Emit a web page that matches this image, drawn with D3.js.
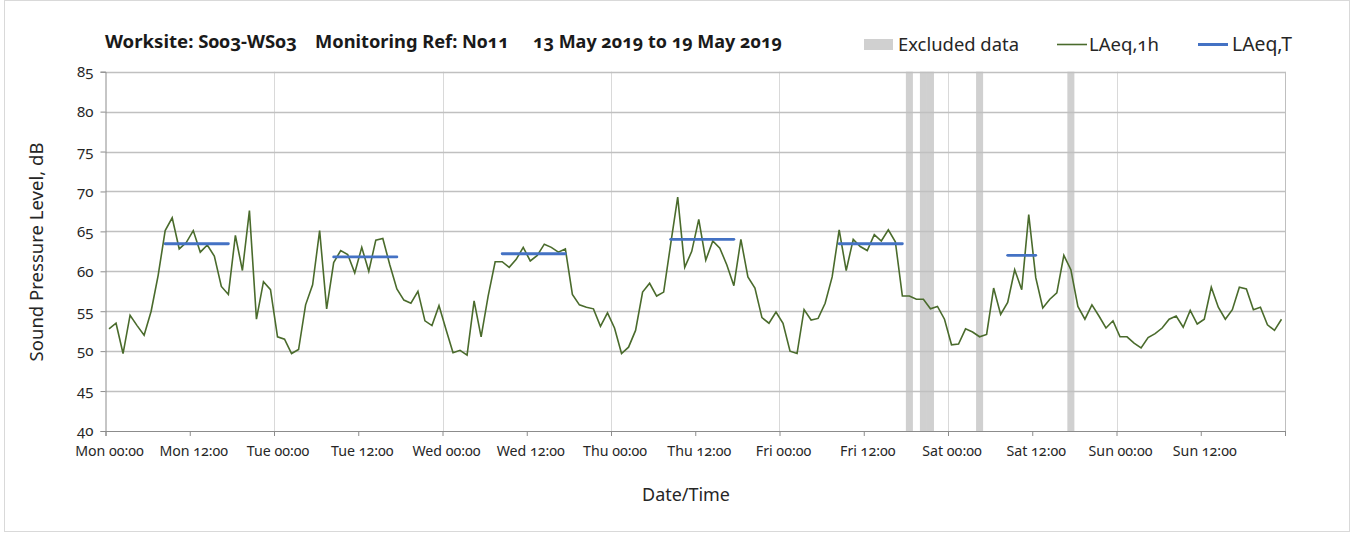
<!DOCTYPE html>
<html>
<head>
<meta charset="utf-8">
<script src="https://cdn.jsdelivr.net/npm/d3@7"></script>
<style>
  body { margin: 0; background: #fff; }
  svg { display: block; font-family: "Noto Sans", "Open Sans", sans-serif; }
  .num { font-variant-numeric: oldstyle-nums; font-feature-settings: "onum" 1; }
</style>
</head>
<body>
<svg id="chart" width="1357" height="533"></svg>
<script>
// Hour offsets (from Mon 00:00) of the labelled ticks, and their labels
const tickHours = [0, 12, 24, 36, 48, 60, 72, 84, 96, 108, 120, 132, 144, 156];
const tickLabels = ["Mon 00:00", "Mon 12:00", "Tue 00:00", "Tue 12:00", "Wed 00:00", "Wed 12:00",
  "Thu 00:00", "Thu 12:00", "Fri 00:00", "Fri 12:00", "Sat 00:00", "Sat 12:00", "Sun 00:00", "Sun 12:00"];
const dayBoundaries = [24, 48, 72, 96, 120, 144];
const yTicks = [40, 45, 50, 55, 60, 65, 70, 75, 80, 85];

// Hourly LAeq,1h values, 13 May 2019 00:00 to 19 May 2019 23:00 (dB)
const laeq1h = [
  52.8, 53.5, 49.7, 54.5, 53.2, 52.0, 55.0, 59.5, 65.1, 66.7, 62.8, 63.6,
  65.1, 62.4, 63.3, 61.9, 58.1, 57.1, 64.5, 60.1, 67.6, 54.0, 58.7, 57.7,
  51.8, 51.5, 49.7, 50.2, 55.8, 58.3, 65.1, 55.3, 61.1, 62.6, 62.1, 59.8,
  63.0, 60.0, 63.9, 64.1, 60.8, 57.8, 56.4, 56.0, 57.5, 53.8, 53.2, 55.7,
  52.7, 49.8, 50.1, 49.5, 56.3, 51.8, 56.9, 61.2, 61.2, 60.5, 61.5, 63.0,
  61.3, 62.0, 63.4, 63.0, 62.4, 62.8, 57.1, 55.8, 55.5, 55.3, 53.1, 54.8,
  52.9, 49.7, 50.5, 52.6, 57.4, 58.5, 56.9, 57.4, 63.4, 69.3, 60.5, 62.5,
  66.5, 61.4, 63.8, 62.9, 60.8, 58.2, 64.0, 59.3, 57.9, 54.2, 53.5, 54.9,
  53.5, 50.0, 49.7, 55.2, 53.9, 54.1, 56.0, 59.3, 65.2, 60.1, 64.0, 63.1,
  62.6, 64.6, 63.8, 65.2, 63.7, 56.9, 56.9, 56.5, 56.5, 55.3, 55.6, 54.0,
  50.8, 50.9, 52.8, 52.4, 51.8, 52.1, 57.9, 54.6, 56.1, 60.2, 57.7, 67.1,
  59.2, 55.4, 56.5, 57.3, 62.0, 60.2, 55.6, 54.0, 55.8, 54.4, 52.9, 53.8,
  51.8, 51.8, 51.0, 50.4, 51.7, 52.2, 52.9, 54.0, 54.4, 53.0, 55.1, 53.4,
  54.0, 58.0, 55.5, 54.0, 55.2, 58.0, 57.8, 55.2, 55.5, 53.3, 52.6, 54.0
];

// LAeq,T over each working period (first and last hour index, level in dB)
const periodStart = [8, 32, 56, 80, 104, 128];
const periodEnd = [17, 41, 65, 89, 113, 132];
const periodLevel = [63.45, 61.8, 62.2, 64.0, 63.45, 62.0];

// Hours flagged as excluded data
const excludedHours = [114, 116, 117, 124, 137];

const titleParts = ["Worksite: S003-WS03", "Monitoring Ref: N011", "13 May 2019 to 19 May 2019"];

const svg = d3.select("#chart");
const plot = { left: 105.5, right: 1285, top: 71.7, bottom: 431 };

const x = d3.scaleLinear().domain([0, 168]).range([plot.left, plot.right]);
const y = d3.scaleLinear().domain([40, 85]).range([plot.bottom, plot.top]);

// Fit a text element's font size so its rendered width equals w
function fitWidth(sel, w) {
  const len = sel.node().getComputedTextLength();
  const fs = parseFloat(sel.attr("font-size"));
  sel.attr("font-size", (fs * w / len).toFixed(2));
  return sel;
}

// Outer chart frame
svg.append("rect").attr("x", 4.5).attr("y", 0.5).attr("width", 1345).attr("height", 531)
  .attr("fill", "#fff").attr("stroke", "#d9d9d9");

// Excluded-data bands
svg.append("g").selectAll("rect").data(excludedHours).join("rect")
  .attr("x", d => x(d)).attr("width", d => x(d + 1) - x(d))
  .attr("y", plot.top).attr("height", plot.bottom - plot.top)
  .attr("fill", "#d0d0d0");

// Vertical gridlines at midnight
svg.append("g").selectAll("line").data(dayBoundaries).join("line")
  .attr("x1", d => Math.round(x(d)) + 0.5).attr("x2", d => Math.round(x(d)) + 0.5)
  .attr("y1", plot.top).attr("y2", plot.bottom)
  .attr("stroke", "#d9d9d9").attr("stroke-width", 1);

// Horizontal gridlines
svg.append("g").selectAll("line").data(yTicks.filter(v => v > 40)).join("line")
  .attr("x1", plot.left).attr("x2", plot.right)
  .attr("y1", d => Math.round(y(d)) + 0.5).attr("y2", d => Math.round(y(d)) + 0.5)
  .attr("stroke", "#c0c0c0").attr("stroke-width", 1.3);

// Right border of plot area
svg.append("line")
  .attr("x1", Math.round(x(168)) + 0.5).attr("x2", Math.round(x(168)) + 0.5)
  .attr("y1", plot.top).attr("y2", plot.bottom)
  .attr("stroke", "#bfbfbf");

// Y axis
const yAxis = d3.axisLeft(y).tickValues(yTicks).tickSize(5).tickPadding(6).tickFormat(d3.format("d"));
const gy = svg.append("g").attr("transform", `translate(${plot.left},0)`).call(yAxis);
gy.select(".domain").attr("stroke", "#8c8c8c");
gy.selectAll(".tick line").attr("stroke", "#8c8c8c");
gy.selectAll(".tick text").attr("class", "num").attr("font-size", 15)
  .attr("font-family", "Noto Sans").attr("fill", "#262626").attr("dx", -1);

// X axis
const xAxis = d3.axisBottom(x).tickValues(tickHours.concat([168])).tickSize(5).tickPadding(7)
  .tickFormat((d, i) => i < tickLabels.length ? tickLabels[i] : "");
const gx = svg.append("g").attr("transform", `translate(0,${plot.bottom})`).call(xAxis);
gx.select(".domain").attr("stroke", "#8c8c8c");
gx.selectAll(".tick line").attr("stroke", "#8c8c8c");
gx.selectAll(".tick text").attr("class", "num").attr("font-size", 14.2)
  .attr("font-family", "Noto Sans").attr("fill", "#262626").attr("dx", 3.5).attr("dy", "0.9em");

// LAeq,1h line
const line = d3.line().x((d, i) => x(i + 0.5)).y(d => y(d));
svg.append("path").datum(laeq1h)
  .attr("d", line).attr("fill", "none")
  .attr("stroke", "#4a6b2c").attr("stroke-width", 1.6).attr("stroke-linejoin", "miter");

// LAeq,T period levels
svg.append("g").selectAll("line").data(periodLevel).join("line")
  .attr("x1", (d, i) => x(periodStart[i] + 0.5)).attr("x2", (d, i) => x(periodEnd[i] + 0.5))
  .attr("y1", d => y(d)).attr("y2", d => y(d))
  .attr("stroke", "#4472c4").attr("stroke-width", 2.8).attr("stroke-linecap", "round");

// Title
const titleX = [105, 315, 533], titleW = [192, 194, 249];
titleParts.forEach((t, i) => {
  const el = svg.append("text").attr("class", "num").attr("x", titleX[i]).attr("y", 48)
    .attr("font-size", 16).attr("font-weight", "bold").attr("fill", "#1a1a1a").text(t);
  fitWidth(el, titleW[i]);
});

// Legend
svg.append("rect").attr("x", 864).attr("y", 39).attr("width", 29).attr("height", 11).attr("fill", "#d0d0d0");
fitWidth(svg.append("text").attr("x", 898).attr("y", 51).attr("font-size", 17).attr("fill", "#262626").text("Excluded data"), 121);
svg.append("line").attr("x1", 1057).attr("x2", 1087).attr("y1", 44.5).attr("y2", 44.5)
  .attr("stroke", "#4a6b2c").attr("stroke-width", 1.6);
fitWidth(svg.append("text").attr("class", "num").attr("x", 1089).attr("y", 51).attr("font-size", 17).attr("fill", "#262626").text("LAeq,1h"), 70);
svg.append("line").attr("x1", 1198).attr("x2", 1228).attr("y1", 44.5).attr("y2", 44.5)
  .attr("stroke", "#4472c4").attr("stroke-width", 3);
fitWidth(svg.append("text").attr("x", 1232).attr("y", 51).attr("font-size", 17).attr("fill", "#262626").text("LAeq,T"), 60);

// Axis titles
const yTitle = svg.append("text").attr("transform", "translate(43,252) rotate(-90)")
  .attr("text-anchor", "middle").attr("font-size", 17).attr("fill", "#262626").text("Sound Pressure Level, dB");
fitWidth(yTitle, 219);
const xTitle = svg.append("text").attr("x", 686).attr("y", 501)
  .attr("text-anchor", "middle").attr("font-size", 17).attr("fill", "#262626").text("Date/Time");
fitWidth(xTitle, 88);
</script>
</body>
</html>
